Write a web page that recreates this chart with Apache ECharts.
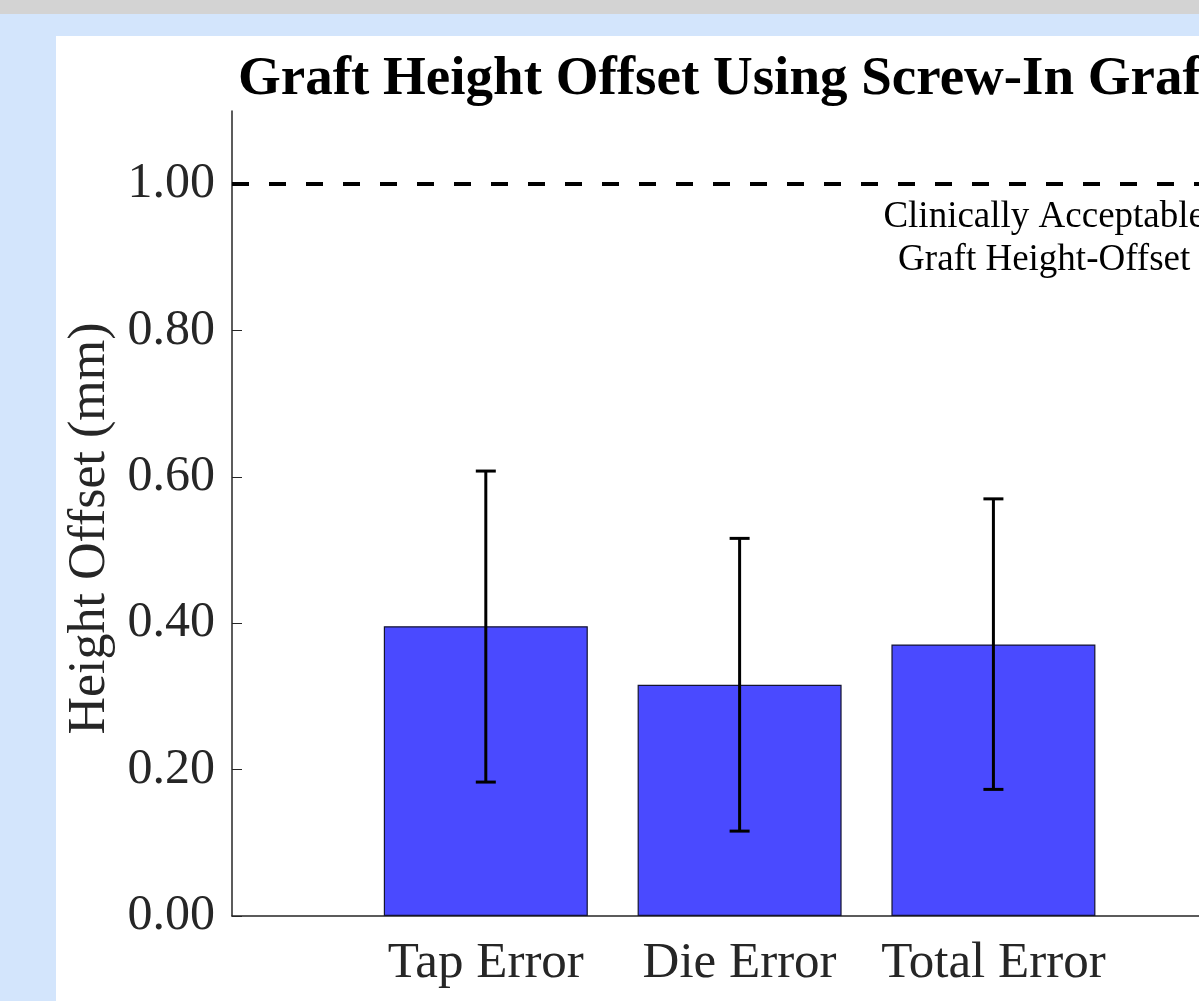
<!DOCTYPE html>
<html>
<head>
<meta charset="utf-8">
<script src="https://cdn.jsdelivr.net/npm/echarts@6/dist/echarts.min.js"></script>
<style>
  html, body { margin: 0; padding: 0; width: 1199px; height: 1001px; overflow: hidden; background: #d3e5fc; }
  #topbar { position: absolute; left: 0; top: 0; width: 1199px; height: 14px; background: #d3d3d3; }
  #chart { position: absolute; left: 56px; top: 36px; width: 1143px; height: 965px; background: #ffffff; }
</style>
</head>
<body>
<div id="topbar"></div>
<div id="chart"></div>
<script>
// ---- data ----
var categories = ['Tap Error', 'Die Error', 'Total Error'];
var categoryPositions = [1, 2, 3];
var meanOffset = [0.396, 0.316, 0.371];
var errorLower = [0.183, 0.116, 0.173];
var errorUpper = [0.608, 0.516, 0.570];
var yTickValues = [0, 0.2, 0.4, 0.6, 0.8, 1.0];
var thresholdValue = 1.0;
var thresholdLabel = 'Clinically Acceptable\nGraft Height-Offset';
var titleText = 'Graft Height Offset Using Screw-In Graft';
var yAxisTitle = 'Height Offset (mm)';

var serif = '"Liberation Serif", "Times New Roman", serif';
var chart = echarts.init(document.getElementById('chart'), null, { renderer: 'canvas' });

var barData = categoryPositions.map(function (x, i) { return [x, meanOffset[i]]; });
var errData = categoryPositions.map(function (x, i) { return [x, errorLower[i], errorUpper[i]]; });

var option = {
  backgroundColor: '#ffffff',
  animation: false,
  title: {
    text: titleText,
    left: 177,
    top: 11,
    textStyle: { fontFamily: serif, fontWeight: 'bold', fontSize: 55, color: '#000000' }
  },
  grid: { left: 176, top: 75, bottom: 85, right: 0, containLabel: false },
  xAxis: {
    type: 'value',
    min: 0,
    max: 3.81,
    interval: 1,
    splitLine: { show: false },
    axisLine: { show: true, lineStyle: { color: '#262626', width: 1.5 } },
    axisTick: { show: true, inside: true, length: 10, customValues: categoryPositions, lineStyle: { color: '#262626', width: 1 } },
    axisLabel: {
      show: true,
      customValues: categoryPositions,
      margin: 22,
      fontFamily: serif, fontSize: 51, color: '#262626',
      formatter: function (v) { var i = categoryPositions.indexOf(Math.round(v)); return i >= 0 ? categories[i] : ''; }
    }
  },
  yAxis: {
    type: 'value',
    min: 0,
    max: 1.1,
    interval: 0.2,
    name: yAxisTitle,
    nameLocation: 'middle',
    nameGap: 112,
    nameTextStyle: { fontFamily: serif, fontSize: 52, color: '#262626', padding: [0, 30, 0, 0] },
    splitLine: { show: false },
    axisLine: { show: true, lineStyle: { color: '#262626', width: 1.5 } },
    axisTick: { show: true, inside: true, length: 10, customValues: yTickValues, lineStyle: { color: '#262626', width: 1 } },
    axisLabel: {
      customValues: yTickValues,
      margin: 17,
      fontFamily: serif, fontSize: 50, color: '#262626',
      formatter: function (v) { return v.toFixed(2); }
    }
  },
  series: [
    {
      type: 'bar',
      data: barData,
      barWidth: 204,
      itemStyle: { color: '#4a4aff', borderColor: '#141430', borderWidth: 1.2 },
      z: 2,
      markLine: {
        silent: true,
        symbol: 'none',
        label: { show: false },
        lineStyle: { color: '#000000', width: 4, type: [17, 20] },
        data: [{ yAxis: thresholdValue }]
      }
    },
    {
      type: 'custom',
      data: errData,
      z: 5,
      renderItem: function (params, api) {
        var x = api.value(0);
        var lo = api.coord([x, api.value(1)]);
        var hi = api.coord([x, api.value(2)]);
        var cap = 10;
        var style = { stroke: '#000000', lineWidth: 3 };
        return {
          type: 'group',
          children: [
            { type: 'line', shape: { x1: lo[0], y1: lo[1], x2: hi[0], y2: hi[1] }, style: style },
            { type: 'line', shape: { x1: lo[0] - cap, y1: lo[1], x2: lo[0] + cap, y2: lo[1] }, style: style },
            { type: 'line', shape: { x1: hi[0] - cap, y1: hi[1], x2: hi[0] + cap, y2: hi[1] }, style: style }
          ]
        };
      }
    },
    {
      type: 'custom',
      data: [[3.2, 0.9255]],
      z: 6,
      renderItem: function (params, api) {
        var p = api.coord([api.value(0), api.value(1)]);
        return {
          type: 'text',
          x: p[0], y: p[1],
          style: {
            text: thresholdLabel,
            fontFamily: serif, fontSize: 37, lineHeight: 43,
            fill: '#000000', align: 'center', verticalAlign: 'middle'
          }
        };
      }
    }
  ]
};
chart.setOption(option);
</script>
</body>
</html>
